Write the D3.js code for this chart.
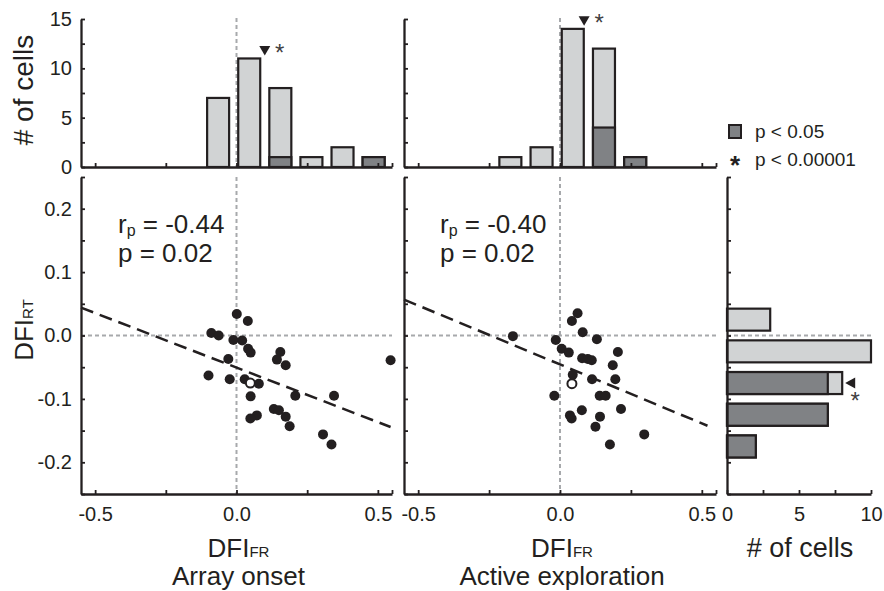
<!DOCTYPE html>
<html>
<head>
<meta charset="utf-8">
<script src="https://cdn.jsdelivr.net/npm/d3@7"></script>
<style>
body { margin: 0; background: #fff; }
svg { font-family: "Liberation Sans", Arial, sans-serif; }
.axis .domain { stroke: #231f20; stroke-width: 2.3; }
.axis .tick line { stroke: #231f20; stroke-width: 1.8; }
.axis text { font-size: 20px; fill: #231f20; font-family: "Liberation Sans", Arial, sans-serif; }
</style>
</head>
<body>
<svg id="fig" width="884" height="591"></svg>
<script>
// DFI_FR histogram bins (centres), width 0.11
var frBins = [-0.505, -0.395, -0.285, -0.175, -0.065, 0.045, 0.155, 0.265, 0.375, 0.485];
var frBinWidth = 0.11;
var onsetCounts   = [0, 0, 0, 0, 7, 11, 8, 1, 2, 1];
var onsetSig      = [0, 0, 0, 0, 0, 0, 1, 0, 0, 1];
var exploreCounts = [0, 0, 0, 1, 2, 14, 12, 1, 0, 0];
var exploreSig    = [0, 0, 0, 0, 0, 0, 4, 1, 0, 0];

// DFI_RT histogram bins (centres), width 0.05
var rtBins = [0.025, -0.025, -0.075, -0.125, -0.175];
var rtBinWidth = 0.05;
var rtCounts = [3, 10, 8, 7, 2];
var rtSig    = [0, 0, 7, 7, 2];

// medians (triangles)
var onsetMedian = 0.1, exploreMedian = 0.085, rtMedian = -0.075;

// scatter: array onset
var onsetFR = [0.001, 0.040, -0.089, -0.063, -0.011, 0.020, 0.041, 0.050, 0.155, 0.143, 0.174, -0.029, -0.099, -0.024,
  0.029, 0.079, 0.050, 0.208, 0.345, 0.545, 0.072, 0.049, 0.132, 0.150, 0.174, 0.188, 0.306, 0.336];
var onsetRT = [0.034, 0.023, 0.004, 0.000, -0.007, -0.008, -0.021, -0.027, -0.026, -0.038, -0.047, -0.037, -0.063, -0.069,
  -0.069, -0.076, -0.096, -0.095, -0.095, -0.039, -0.126, -0.131, -0.116, -0.118, -0.128, -0.143, -0.156, -0.172];
var onsetOpen = [0.049, -0.075];
var onsetFit = [-0.172, -0.0506, -0.55, 0.545]; // slope, intercept, x from, x to
var onsetStats = ["-0.44", "0.02"];

// scatter: active exploration
var exploreFR = [0.062, 0.042, 0.080, 0.130, -0.166, -0.015, 0.006, 0.031, 0.204, 0.078, 0.098, 0.112, 0.186, 0.045,
  0.113, 0.195, -0.020, 0.140, 0.161, 0.077, 0.215, 0.035, 0.041, 0.141, 0.125, 0.297, 0.176];
var exploreRT = [0.035, 0.023, 0.005, -0.006, -0.001, -0.007, -0.021, -0.027, -0.026, -0.036, -0.037, -0.039, -0.047, -0.062,
  -0.069, -0.069, -0.095, -0.095, -0.095, -0.118, -0.116, -0.126, -0.131, -0.128, -0.144, -0.156, -0.172];
var exploreOpen = [0.042, -0.076];
var exploreFit = [-0.186, -0.0456, -0.55, 0.52];
var exploreStats = ["-0.40", "0.02"];

// ticks
var frTicks = [-0.5, -0.25, 0, 0.25, 0.5, 0.55];
var frLabels = [-0.5, 0, 0.5];
var rtTicks = [-0.25, -0.2, -0.15, -0.1, -0.05, 0, 0.05, 0.1, 0.15, 0.2, 0.25];
var rtLabels = [-0.2, -0.1, 0, 0.1, 0.2];
var countTicks = [0, 2.5, 5, 7.5, 10, 12.5, 15];
var countLabels = [0, 5, 10, 15];
var rtCountTicks = [0, 2.5, 5, 7.5, 10];
var rtCountLabels = [0, 5, 10];

var LIGHT = "#d1d3d4", DARK = "#808285", INK = "#231f20", GUIDE = "#a7a9ac";

var svg = d3.select("#fig");

var xOnset = d3.scaleLinear().domain([-0.55, 0.55]).range([81, 392]);
var xExplore = d3.scaleLinear().domain([-0.55, 0.55]).range([404, 716]);
var yRT = d3.scaleLinear().domain([-0.25, 0.25]).range([494, 177]);
var yCount = d3.scaleLinear().domain([0, 15]).range([167, 19]);
var xCount = d3.scaleLinear().domain([0, 10]).range([727, 871]);

function has(list, d) {
  return list.some(function(v) { return Math.abs(v - d) < 1e-9; });
}
function fmt1(list) {
  return function(d) { return has(list, d) ? d.toFixed(1) : ""; };
}
function fmt0(list) {
  return function(d) { return has(list, d) ? String(d) : ""; };
}

function guide(x1, y1, x2, y2) {
  svg.append("line")
    .attr("x1", x1).attr("y1", y1).attr("x2", x2).attr("y2", y2)
    .attr("stroke", GUIDE).attr("stroke-width", 2)
    .attr("stroke-dasharray", "4,3");
}

function star(cx, cy, size, color, weight) {
  svg.append("text")
    .attr("x", cx).attr("y", cy + size * 0.55)
    .attr("text-anchor", "middle")
    .attr("font-size", size)
    .attr("font-weight", weight || "normal")
    .attr("fill", color)
    .text("*");
}

// ---------- top histograms ----------
function drawTopHist(x, counts, sig, median, showLabels) {
  guide(x(0), 18, x(0), yCount(0));

  var g = svg.append("g");
  var w = 22;
  g.selectAll("rect.all").data(frBins).enter().append("rect")
    .attr("x", function(d) { return x(d) - w / 2; })
    .attr("width", w)
    .attr("y", function(d, i) { return yCount(counts[i]); })
    .attr("height", function(d, i) { return yCount(0) - yCount(counts[i]); })
    .attr("fill", LIGHT).attr("stroke", INK).attr("stroke-width", 2.2);
  g.selectAll("rect.sig").data(frBins.filter(function(d, i) { return sig[i] > 0; })).enter().append("rect")
    .attr("x", function(d) { return x(d) - w / 2; })
    .attr("width", w)
    .attr("y", function(d) { return yCount(sig[frBins.indexOf(d)]); })
    .attr("height", function(d) { return yCount(0) - yCount(sig[frBins.indexOf(d)]); })
    .attr("fill", DARK).attr("stroke", INK).attr("stroke-width", 2.2);

  svg.append("g").attr("class", "axis")
    .attr("transform", "translate(0," + yCount(0) + ")")
    .call(d3.axisBottom(x).tickValues(frTicks).tickSizeInner(-4).tickSizeOuter(0).tickFormat(""));
  svg.append("g").attr("class", "axis")
    .attr("transform", "translate(" + x.range()[0] + ",0)")
    .call(d3.axisLeft(yCount).tickValues(countTicks).tickSizeInner(-4).tickSizeOuter(0).tickPadding(9)
      .tickFormat(showLabels ? fmt0(countLabels) : ""));

  // median triangle
  var top = d3.max(frBins.map(function(d, i) {
    return Math.abs(d - median) < frBinWidth ? counts[i] : 0;
  }));
  var tx = x(median), ty = yCount(top) - 3;
  svg.append("path")
    .attr("d", "M" + tx + "," + ty + "L" + (tx - 5.5) + "," + (ty - 9.5) + "L" + (tx + 5.5) + "," + (ty - 9.5) + "Z")
    .attr("fill", INK);
  star(tx + 15, ty - 8, 24, "#414042");
}

drawTopHist(xOnset, onsetCounts, onsetSig, onsetMedian, true);
drawTopHist(xExplore, exploreCounts, exploreSig, exploreMedian, false);

// ---------- scatter panels ----------
function drawScatter(x, fr, rt, open, fit, stats, showLabels, statX) {
  guide(x(0), yRT.range()[1], x(0), yRT.range()[0]);
  guide(x.range()[0], yRT(0), x.range()[1], yRT(0));

  var g = svg.append("g");
  g.selectAll("circle").data(fr).enter().append("circle")
    .attr("cx", function(d) { return x(d); })
    .attr("cy", function(d, i) { return yRT(rt[i]); })
    .attr("r", 5)
    .attr("fill", INK);
  g.append("circle")
    .attr("cx", x(open[0])).attr("cy", yRT(open[1]))
    .attr("r", 4.5)
    .attr("fill", "#fff").attr("stroke", INK).attr("stroke-width", 2);

  svg.append("line")
    .attr("x1", x(fit[2])).attr("y1", yRT(fit[0] * fit[2] + fit[1]))
    .attr("x2", x(fit[3])).attr("y2", yRT(fit[0] * fit[3] + fit[1]))
    .attr("stroke", INK).attr("stroke-width", 2.5)
    .attr("stroke-dasharray", "13,7");

  svg.append("g").attr("class", "axis")
    .attr("transform", "translate(0," + yRT.range()[0] + ")")
    .call(d3.axisBottom(x).tickValues(frTicks).tickSizeInner(-4).tickSizeOuter(0).tickPadding(13)
      .tickFormat(fmt1(frLabels)));
  svg.append("g").attr("class", "axis")
    .attr("transform", "translate(" + x.range()[0] + ",0)")
    .call(d3.axisLeft(yRT).tickValues(rtTicks).tickSizeInner(-4).tickSizeOuter(0).tickPadding(9)
      .tickFormat(showLabels ? fmt1(rtLabels) : ""));

  var t1 = svg.append("text").attr("x", statX).attr("y", 233).attr("font-size", 26).attr("fill", INK);
  t1.append("tspan").text("r");
  t1.append("tspan").attr("font-size", 16).attr("dy", 3).text("p");
  t1.append("tspan").attr("dy", -3).text(" = " + stats[0]);
  svg.append("text").attr("x", statX).attr("y", 262).attr("font-size", 26).attr("fill", INK)
    .text("p = " + stats[1]);
}

drawScatter(xOnset, onsetFR, onsetRT, onsetOpen, onsetFit, onsetStats, true, 118);
drawScatter(xExplore, exploreFR, exploreRT, exploreOpen, exploreFit, exploreStats, false, 440);

// ---------- right histogram ----------
guide(xCount(0), yRT(0), xCount.range()[1] + 2, yRT(0));
var hr = svg.append("g");
var bh = 22;
hr.selectAll("rect.all").data(rtBins).enter().append("rect")
  .attr("x", xCount(0))
  .attr("y", function(d) { return yRT(d) - bh / 2; })
  .attr("height", bh)
  .attr("width", function(d, i) { return xCount(rtCounts[i]) - xCount(0); })
  .attr("fill", LIGHT).attr("stroke", INK).attr("stroke-width", 2.2);
hr.selectAll("rect.sig").data(rtBins.filter(function(d, i) { return rtSig[i] > 0; })).enter().append("rect")
  .attr("x", xCount(0))
  .attr("y", function(d) { return yRT(d) - bh / 2; })
  .attr("height", bh)
  .attr("width", function(d) { return xCount(rtSig[rtBins.indexOf(d)]) - xCount(0); })
  .attr("fill", DARK).attr("stroke", INK).attr("stroke-width", 2.2);

svg.append("g").attr("class", "axis")
  .attr("transform", "translate(0," + yRT.range()[0] + ")")
  .call(d3.axisBottom(xCount).tickValues(rtCountTicks).tickSizeInner(-4).tickSizeOuter(0).tickPadding(13)
    .tickFormat(fmt0(rtCountLabels)));
svg.append("g").attr("class", "axis")
  .attr("transform", "translate(" + xCount(0) + ",0)")
  .call(d3.axisLeft(yRT).tickValues(rtTicks).tickSizeInner(-4).tickSizeOuter(0).tickFormat(""));

(function() {
  var i = rtBins.indexOf(rtMedian);
  var tx = xCount(rtCounts[i]) + 3, ty = yRT(rtMedian);
  svg.append("path")
    .attr("d", "M" + tx + "," + ty + "L" + (tx + 10) + "," + (ty - 5.5) + "L" + (tx + 10) + "," + (ty + 5.5) + "Z")
    .attr("fill", INK);
  star(tx + 10, ty + 13, 24, "#414042");
})();

// ---------- legend ----------
svg.append("rect").attr("x", 729).attr("y", 125).attr("width", 12).attr("height", 13)
  .attr("fill", DARK).attr("stroke", INK).attr("stroke-width", 2);
svg.append("text").attr("x", 755).attr("y", 138).attr("font-size", 19).attr("fill", INK).text("p < 0.05");
star(735, 160, 26, INK, "bold");
svg.append("text").attr("x", 755).attr("y", 166).attr("font-size", 19).attr("fill", INK).text("p < 0.00001");

// ---------- axis titles ----------
svg.append("text")
  .attr("transform", "translate(33,90) rotate(-90)")
  .attr("text-anchor", "middle").attr("font-size", 28).attr("fill", INK)
  .text("# of cells");

var yt = svg.append("text")
  .attr("transform", "translate(33,330) rotate(-90)")
  .attr("text-anchor", "middle").attr("font-size", 26).attr("fill", INK);
yt.append("tspan").text("DFI");
yt.append("tspan").attr("font-size", 15).text("RT");

[[xOnset, "Array onset"], [xExplore, "Active exploration"]].forEach(function(p) {
  var cx = p[0](0) + 2;
  var t = svg.append("text").attr("x", cx).attr("y", 557)
    .attr("text-anchor", "middle").attr("font-size", 26).attr("fill", INK);
  t.append("tspan").text("DFI");
  t.append("tspan").attr("font-size", 15).text("FR");
  svg.append("text").attr("x", cx).attr("y", 585)
    .attr("text-anchor", "middle").attr("font-size", 26).attr("fill", INK)
    .text(p[1]);
});

svg.append("text").attr("x", xCount(5) + 1).attr("y", 557)
  .attr("text-anchor", "middle").attr("font-size", 27).attr("fill", INK)
  .text("# of cells");
</script>
</body>
</html>
